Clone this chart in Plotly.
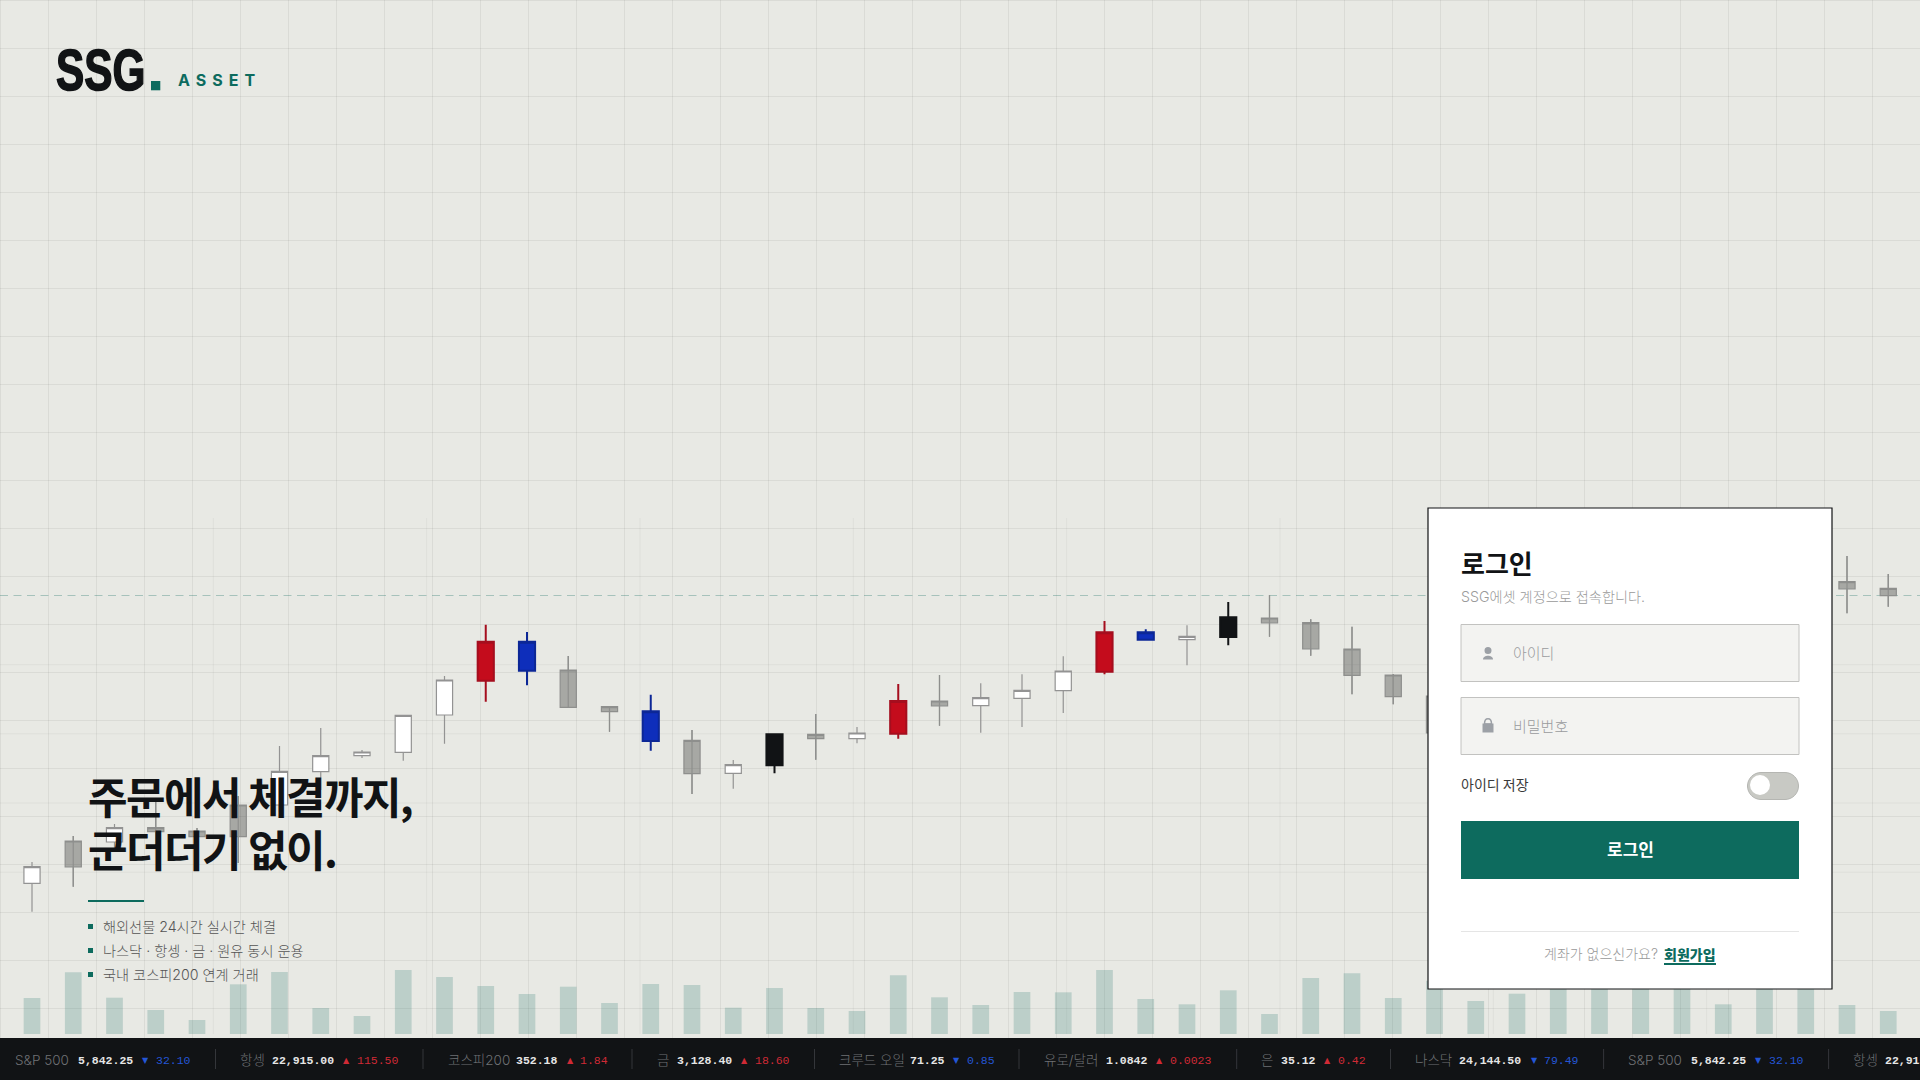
import plotly.graph_objects as go

# page is a login screen over a candle chart, all laid out in 1920x1080 pixels
W = 1920
H = 1080
BG = "#E8E9E4"
TEAL = "#0D6B5E"
INK = "#111315"
KR = "Noto Sans CJK KR"
UI = "Inter, Noto Sans CJK KR"
MONO = "Liberation Mono"

# candles, price units run bottom to top of the page. 35-43 sit behind the login box
candle_slot = [0, 1, 2, 3, 4, 5, 6, 7, 8, 9, 10, 11, 12, 13, 14, 15, 16, 17, 18, 19, 20, 21, 22, 23, 24,
               25, 26, 27, 28, 29, 30, 31, 32, 33, 34, 44, 45]
candle_kind = ["w", "g", "w", "g", "g", "g", "w", "w", "w", "w", "w", "r", "b", "g", "g", "b", "g", "w", "k", "g", "w", "r", "g", "w", "w",
               "w", "r", "b", "w", "k", "g", "g", "g", "g", "g", "g", "g"]
candle_high = [218, 244, 256, 280, 252, 284, 334, 352, 330, 365.3, 404, 455.3, 448, 424, 374, 385.3, 350, 320, 346.7, 366, 353, 396, 405, 396.7, 405.7,
               423.7, 459, 450.7, 454.7, 478, 485, 460.7, 453.3, 406, 390, 524, 506]
candle_close = [213.3, 239, 252.3, 252.3, 249, 275, 308.7, 324.3, 328, 364.7, 400, 438.3, 438.3, 410, 373.3, 368.7, 339.7, 315.3, 345.7, 345.7, 347, 379, 379, 382.3, 389.7,
                409, 447.7, 447.7, 443.7, 462.7, 462, 457.3, 431, 405, 384, 498.3, 491.7]
candle_open = [196.7, 213, 238, 248.3, 243.3, 243.3, 275, 308.3, 324.3, 327.7, 365, 399.3, 409.3, 372.7, 368.3, 339, 306.3, 306.7, 314.7, 341.3, 341.3, 346.3, 374, 374.3, 381.7,
               389.3, 408.3, 440.3, 440.3, 443, 457, 431, 404.7, 383.3, 347, 491, 484.3]
candle_low = [168.3, 193.3, 228, 234, 234, 217, 268, 290, 322, 319.3, 336.3, 378.3, 394.7, 372, 348.3, 329.3, 286, 291.3, 306.7, 320.3, 336.7, 341.3, 354.3, 347.3, 353,
              367, 405.7, 439.3, 414.7, 434.7, 443.3, 424.3, 385.7, 375.7, 335, 466.7, 473.3]

volume = [36, 61.7, 36.3, 24, 14, 49.7, 62, 26, 18, 64, 57, 48, 40, 47.3, 31, 50, 49, 26.3, 46, 26, 23, 58.7, 36.7, 29, 42, 41.7,
          64, 35, 29.7, 43.7, 20, 56, 60.7, 36, 53.3, 33, 40.3, 52, 54, 50, 50, 29.7, 48, 52, 29, 23]

# ticker strip
ticker_label = ["S&P 500", "항셍", "코스피200", "금", "크루드 오일", "유로/달러", "은", "나스닥", "S&P 500", "항셍"]
ticker_value = ["5,842.25", "22,915.00", "352.18", "3,128.40", "71.25", "1.0842", "35.12", "24,144.50", "5,842.25", "22,915.00"]
ticker_change = ["32.10", "115.50", "1.84", "18.60", "0.85", "0.0023", "0.42", "79.49", "32.10", "115.50"]
ticker_up = [False, True, True, True, False, True, True, False, False, True]
ticker_label_x = [15, 240, 448, 656.6, 839, 1044, 1261, 1415, 1628, 1853]
ticker_value_x = [78.3, 272, 516, 677, 910, 1106, 1281, 1459, 1691, 1885]
ticker_arrow_x = [145, 346, 570, 744, 956, 1159, 1327.6, 1534, 1758, 1960]
ticker_change_x = [156.3, 357, 580, 755, 967, 1170, 1338, 1544, 1769, 1970]
ticker_div_x = [215.5, 423, 632, 814.5, 1019, 1236.7, 1390.5, 1603.6, 1828.6]

bullets = ["해외선물 24시간 실시간 체결", "나스닥 · 항셍 · 금 · 원유 동시 운용", "국내 코스피200 연계 거래"]
bullet_y = [926.5, 950.5, 974.5]

# look of each candle kind: fill, outline
kind_style = {
    "w": ("#FFFFFF", "#939393"),
    "g": ("rgba(0,0,0,0.28)", "#8E8F8D"),
    "r": ("#C40C1C", "#A50E1E"),
    "b": ("#0E2EBB", "#0C2796"),
    "k": ("#111315", "#111315"),
}


def fx(x):
    return x / W


def fy(y):
    return 1 - y / H


def rect(x0, y0, x1, y1, fill, line=None, lw=0, layer="above"):
    return dict(type="rect", xref="paper", yref="paper", x0=fx(x0), x1=fx(x1), y0=fy(y0), y1=fy(y1),
                fillcolor=fill, line=dict(color=line or "rgba(0,0,0,0)", width=lw), layer=layer)


def seg(x0, y0, x1, y1, color, lw=1, layer="above", dash=None):
    return dict(type="line", xref="paper", yref="paper", x0=fx(x0), x1=fx(x1), y0=fy(y0), y1=fy(y1),
                line=dict(color=color, width=lw, dash=dash), layer=layer)


def path_shape(pts, fill, line=None, lw=0):
    out = []
    for p in pts:
        nums = p[1:]
        coords = [f"{fx(nums[i]):.6f},{fy(nums[i + 1]):.6f}" for i in range(0, len(nums), 2)]
        out.append(p[0] + " ".join(coords))
    return dict(type="path", xref="paper", yref="paper", path=" ".join(out) + " Z", fillcolor=fill,
                line=dict(color=line or "rgba(0,0,0,0)", width=lw), layer="above")


def pill(x0, y0, x1, y1, fill, line, lw):
    r = (y1 - y0) / 2
    k = r * 0.55
    pts = [("M", x0 + r, y0), ("L", x1 - r, y0),
           ("C", x1 - r + k, y0, x1, y0 + r - k, x1, y0 + r),
           ("C", x1, y0 + r + k, x1 - r + k, y1, x1 - r, y1),
           ("L", x0 + r, y1),
           ("C", x0 + r - k, y1, x0, y0 + r + k, x0, y0 + r),
           ("C", x0, y0 + r - k, x0 + r - k, y0, x0 + r, y0)]
    return path_shape(pts, fill, line, lw)


def txt(x, y, text, size, color, family=KR, weight=400, anchor="left"):
    return dict(x=fx(x), y=fy(y), xref="paper", yref="paper", text=text, showarrow=False,
                xanchor=anchor, yanchor="middle", align=anchor, borderpad=0, borderwidth=0,
                font=dict(size=size, color=color, family=family, weight=weight))


fig = go.Figure()

fig.add_trace(go.Bar(x=list(range(len(volume))), y=volume, width=0.405, yaxis="y2",
                     marker=dict(color="rgba(13,107,94,0.2)", line=dict(width=0)), hoverinfo="skip"))

# gray bodies are see-through and show the wick inside
gray_x = []
gray_y = []
for i, kind in enumerate(candle_kind):
    if kind == "g":
        gray_x += [candle_slot[i], candle_slot[i], None]
        gray_y += [candle_high[i], candle_low[i], None]
fig.add_trace(go.Scatter(x=gray_x, y=gray_y, mode="lines", line=dict(color="#8E8F8D", width=1.2), hoverinfo="skip"))

for kind, (fill, edge) in kind_style.items():
    pick = [i for i, k in enumerate(candle_kind) if k == kind]
    one = dict(fillcolor=fill, line=dict(color=edge, width=2 if kind in "rbk" else 1.2))
    fig.add_trace(go.Candlestick(
        x=[candle_slot[i] for i in pick],
        open=[candle_open[i] for i in pick],
        high=[candle_high[i] for i in pick],
        low=[candle_low[i] for i in pick],
        close=[candle_close[i] for i in pick],
        increasing=one, decreasing=one, whiskerwidth=0, hoverinfo="skip"))

shapes = []
# page grid
for x in range(0, W, 48):
    shapes.append(seg(x + 0.5, 0, x + 0.5, H, "rgba(0,0,0,0.058)", layer="below"))
for y in range(0, H, 48):
    shapes.append(seg(0, y + 0.5, W, y + 0.5, "rgba(0,0,0,0.058)", layer="below"))
# finer grid of the chart canvas
for x in [213.3, 426.7, 640, 853.3, 1066.7, 1280, 1493.3, 1706.7]:
    shapes.append(seg(x, 518, x, 1034, "rgba(0,0,0,0.04)", layer="below"))
for y in [664.7, 733.8, 803, 872.2]:
    shapes.append(seg(0, y, W, y, "rgba(0,0,0,0.045)", layer="below"))
shapes.append(seg(0, 595.5, W, 595.5, "rgba(13,107,94,0.3)", lw=1.2, layer="below", dash="8px,5.5px"))

# logo, text block
shapes.append(rect(151, 81, 160.3, 90.3, TEAL))
shapes.append(rect(88, 900, 144, 902, TEAL))
for y in bullet_y:
    shapes.append(rect(88, y - 2.5, 93, y + 2.5, TEAL))

# ticker
shapes.append(rect(0, 1038, W, H, INK))
for x in ticker_div_x:
    shapes.append(seg(x, 1049, x, 1069, "#34363A", lw=1))

# login box
shapes.append(rect(1428, 508, 1832, 989, "#FFFFFF", "#111315", 1.2))
shapes.append(rect(1461, 624.5, 1799, 681.5, "#F3F3F1", "#C2C2C0", 1))
shapes.append(rect(1461, 697.5, 1799, 754.5, "#F3F3F1", "#C2C2C0", 1))
# user icon
shapes.append(dict(type="circle", xref="paper", yref="paper", x0=fx(1484.5), x1=fx(1491.5), y0=fy(647), y1=fy(654),
                   fillcolor="#9CA0A6", line=dict(width=0), layer="above"))
shapes.append(path_shape([("M", 1483, 659.5), ("C", 1483, 654.5, 1493, 654.5, 1493, 659.5)], "#9CA0A6"))
# lock icon
shapes.append(rect(1482.5, 723.5, 1493.5, 732.5, "#9CA0A6"))
shapes.append(path_shape([("M", 1484.5, 724), ("C", 1484.5, 717, 1491.5, 717, 1491.5, 724)], "rgba(0,0,0,0)", "#9CA0A6", 1.5))
# toggle
shapes.append(pill(1747.5, 772.5, 1798.5, 799.5, "#C8C9C4", "#B5B6B2", 1))
shapes.append(dict(type="circle", xref="paper", yref="paper", x0=fx(1750), x1=fx(1770), y0=fy(775), y1=fy(795),
                   fillcolor="#FFFFFF", line=dict(width=0), layer="above"))
# button, divider, link underline
shapes.append(rect(1461, 821, 1799, 879, TEAL))
shapes.append(seg(1461, 931.5, 1799, 931.5, "#E5E5E5", lw=1))
shapes.append(rect(1664, 963, 1716, 965, TEAL))

notes = [
    txt(56, 70, "SSG", 58, INK, family="Liberation Sans", weight=700),
    txt(178, 80, "ASSET", 16, TEAL, family="Inter", weight=700),
    txt(88, 795, "주문에서 체결까지,", 43, INK, weight=700),
    txt(88, 848, "군더더기 없이.", 43, INK, weight=700),
    txt(1461, 562, "로그인", 26, INK, weight=700),
    txt(1461, 596.5, "SSG에셋 계정으로 접속합니다.", 14.2, "#9A9A9A", family=UI, weight=300),
    txt(1512.7, 652, "아이디", 15, "#9A9B9E", weight=300),
    txt(1512.7, 725, "비밀번호", 15, "#9A9B9E", weight=300),
    txt(1461, 784, "아이디 저장", 14, "#3A3A3A"),
    txt(1630, 848.5, "로그인", 17, "#FFFFFF", weight=700, anchor="center"),
    txt(1544.3, 953.5, "계좌가 없으신가요?", 14, "#999999", family=UI, weight=300),
    txt(1664, 953.5, "회원가입", 14, TEAL, weight=900),
]
for y, line in zip(bullet_y, bullets):
    notes.append(txt(103, y, line, 14.2, "#555555", family=UI, weight=300))

for i in range(len(ticker_label)):
    notes.append(txt(ticker_label_x[i], 1060, ticker_label[i], 13.5, "#6F7174", family=UI, weight=300))
    notes.append(txt(ticker_value_x[i], 1060, ticker_value[i], 11.5, "#E6E6E6", family=MONO, weight=700))
    if ticker_arrow_x[i] < W:
        color = "#D02A35" if ticker_up[i] else "#2456D6"
        notes.append(txt(ticker_arrow_x[i], 1060, "▲" if ticker_up[i] else "▼", 8, color, family="DejaVu Sans", anchor="center"))
        notes.append(txt(ticker_change_x[i], 1060, ticker_change[i], 11.5, color, family=MONO))

fig.update_layout(
    width=W, height=H, margin=dict(l=0, r=0, t=0, b=0),
    paper_bgcolor=BG, plot_bgcolor="rgba(0,0,0,0)", showlegend=False,
    boxgap=0.44, boxgroupgap=0.3, hovermode=False,
    shapes=shapes, annotations=notes,
    xaxis=dict(range=[-32 / 41.25, (W - 32) / 41.25], visible=False, rangeslider=dict(visible=False), fixedrange=True),
    yaxis=dict(range=[0, H], visible=False, fixedrange=True),
    yaxis2=dict(range=[0, 1034], domain=[46 / H, 1], visible=False, anchor="x", fixedrange=True),
)

page_fix = """
document.documentElement.style.background = '%s';
document.body.style.margin = '0';
document.body.style.overflow = 'hidden';
var tracking = {'ASSET': '6px', '주문에서 체결까지,': '-1.6px', '군더더기 없이.': '-1.6px'};
document.querySelectorAll('.annotation-text').forEach(function (t) {
  if (tracking[t.textContent]) { t.style.letterSpacing = tracking[t.textContent]; }
  if (t.textContent === 'SSG') {
    t.style.transformBox = 'fill-box';
    t.style.transformOrigin = 'left center';
    t.style.transform = 'scaleX(0.73)';
    t.style.stroke = '%s';
    t.style.strokeWidth = '1.6px';
  }
});
""" % (BG, INK)

fig.write_html("out.html", post_script=page_fix, config=dict(displayModeBar=False))
